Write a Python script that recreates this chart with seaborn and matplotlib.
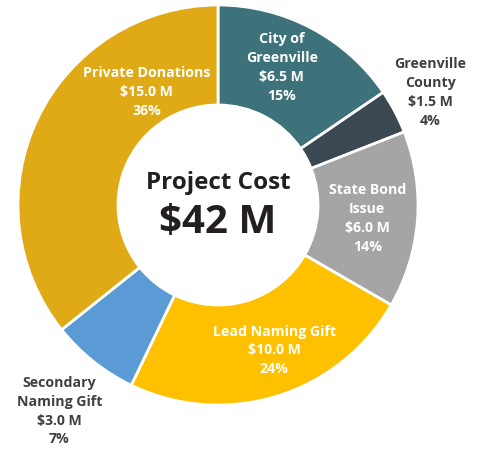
import numpy as np
import matplotlib
matplotlib.use("Agg")
import matplotlib.pyplot as plt
import seaborn as sns

# データ
sources = ["City of\nGreenville", "Greenville\nCounty", "State Bond\nIssue",
           "Lead Naming Gift", "Secondary\nNaming Gift", "Private Donations"]
amounts = [6.5, 1.5, 6.0, 10.0, 3.0, 15.0]
percents = ["15%", "4%", "14%", "24%", "7%", "36%"]
colors = ["#3d727a", "#3b4751", "#a5a5a5", "#ffc000", "#5b9bd5", "#e0aa16"]
text_colors = ["white", "#404040", "white", "white", "#404040", "white"]
total_label = "$42 M"

# ラベル位置 (半径, 角度のずれ[deg])
label_r = [0.76, 1.2, 0.75, 0.78, 1.3, 0.67]
label_shift = [3, 0, -1, 4, 1, -32]

sns.set_theme(style="white")
plt.rcParams["font.family"] = ["Open Sans", "DejaVu Sans"]

fig = plt.figure(figsize=(4.87, 4.49), dpi=100)
ax = fig.add_axes([18 / 487, 44 / 449, 400 / 487, 400 / 449])

wedges, _ = ax.pie(amounts, colors=colors, startangle=90, counterclock=False,
                   radius=1.0,
                   wedgeprops=dict(width=0.5, edgecolor="white", linewidth=2))

total = sum(amounts)
cum = 0
for i, w in enumerate(wedges):
    mid = 90 - (cum + amounts[i] / 2) / total * 360 + label_shift[i]
    cum += amounts[i]
    x = label_r[i] * np.cos(np.deg2rad(mid))
    y = label_r[i] * np.sin(np.deg2rad(mid))
    txt = f"{sources[i]}\n${amounts[i]:.1f} M\n{percents[i]}"
    ax.text(x, y, txt, ha="center", va="center", color=text_colors[i],
            fontsize=10.2, fontweight="bold", linespacing=1.45, clip_on=False)

# 中央のテキスト
ax.text(0, 0.11, "Project Cost", ha="center", va="center", fontsize=17.5,
        fontweight="bold", color="#231f20")
ax.text(0, -0.09, total_label, ha="center", va="center", fontsize=29,
        fontweight="bold", color="#231f20")

ax.set_xlim(-1, 1)
ax.set_ylim(-1, 1)
ax.set_aspect("equal")
ax.axis("off")

fig.savefig("out.png", dpi=100)
